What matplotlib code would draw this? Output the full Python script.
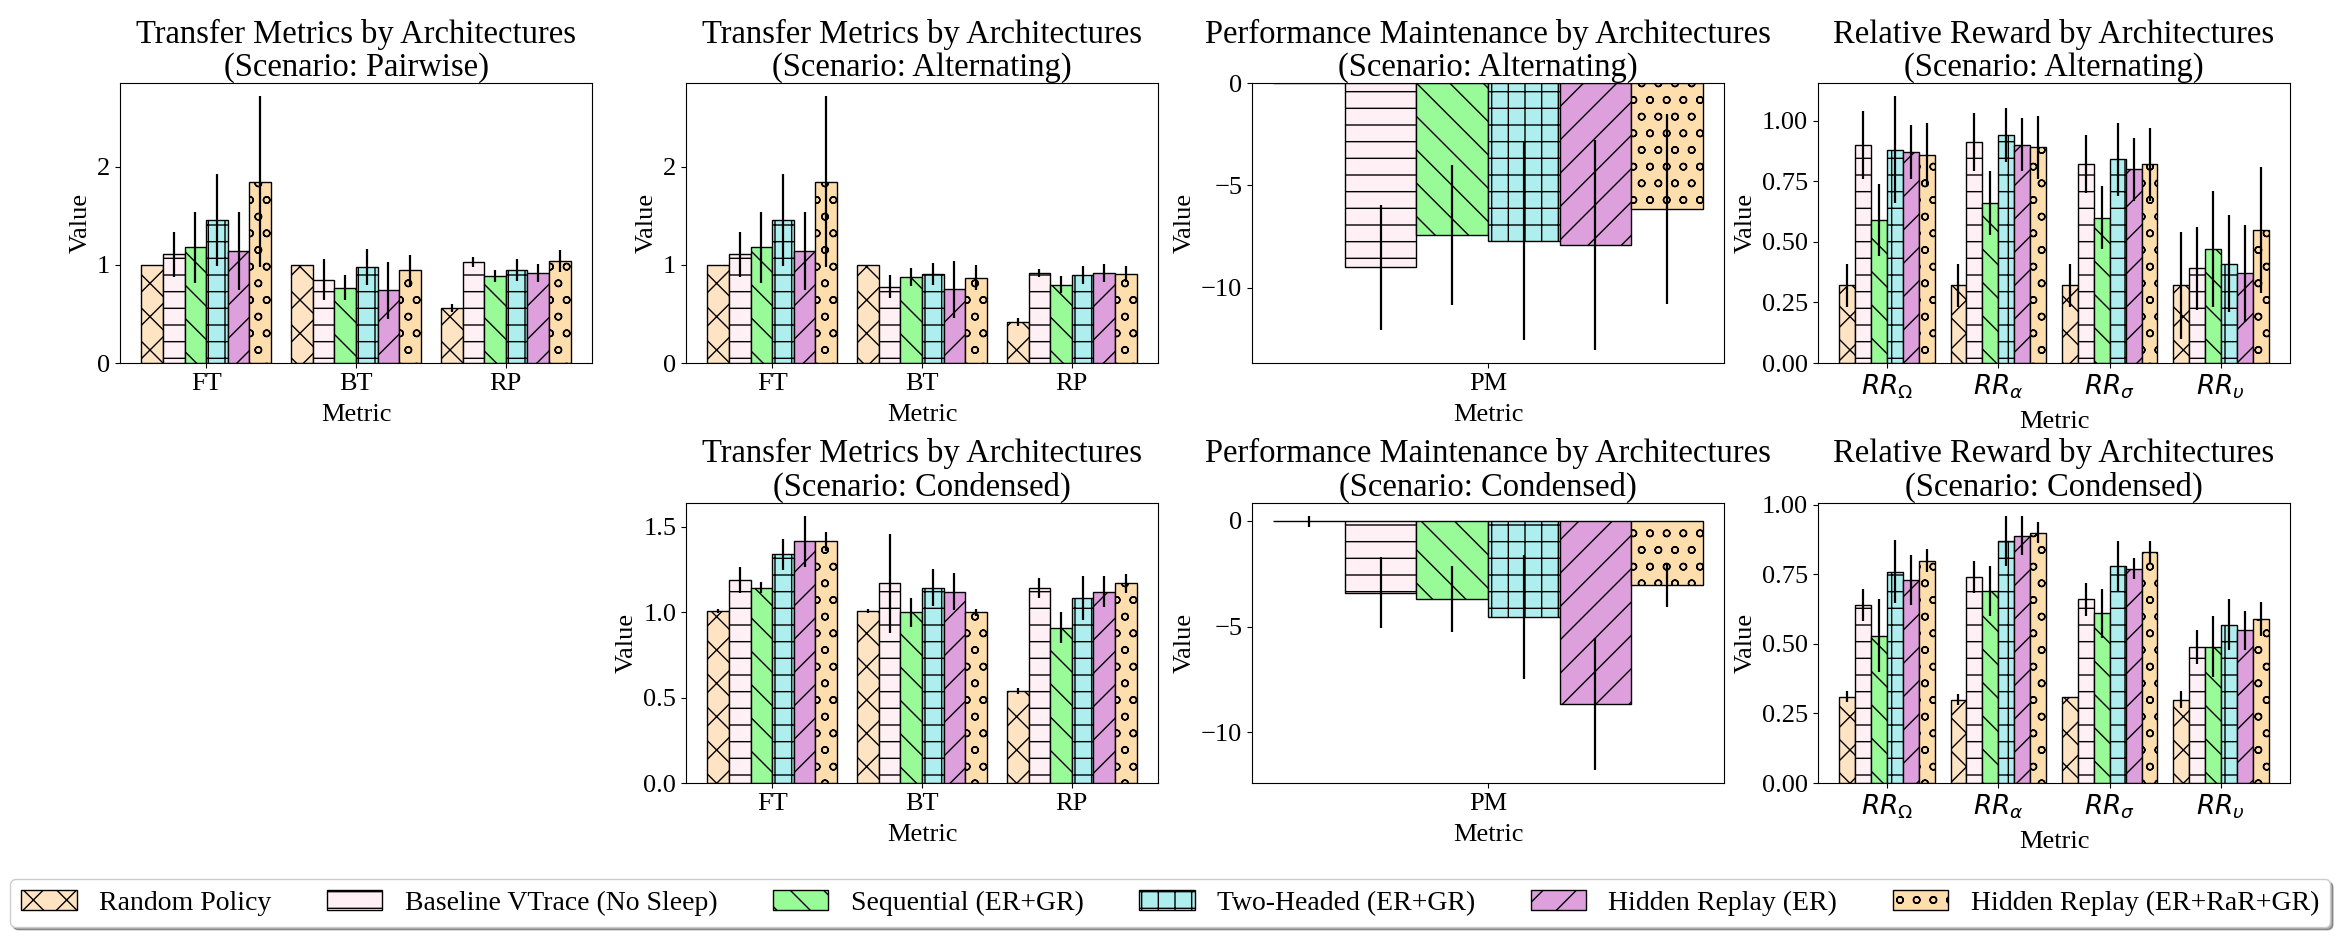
import matplotlib
matplotlib.use('Agg')
import matplotlib.pyplot as plt
from matplotlib import ticker
from matplotlib.patches import Patch
import numpy as np

plt.rcParams['font.family'] = ['Liberation Serif', 'DejaVu Serif']
plt.rcParams['axes.unicode_minus'] = True

architectures = ['Random Policy', 'Baseline VTrace (No Sleep)', 'Sequential (ER+GR)',
                 'Two-Headed (ER+GR)', 'Hidden Replay (ER)', 'Hidden Replay (ER+RaR+GR)']
colors = ['bisque', 'lavenderblush', 'palegreen', 'paleturquoise', 'plum', 'navajowhite']
hatches = ['x', '-', '\\', '+', '/', 'o']

transfer_metrics = ['FT', 'BT', 'RP']
pm_metrics = ['PM']
rr_metrics = [r'$RR_{\Omega}$', r'$RR_{\alpha}$', r'$RR_{\sigma}$', r'$RR_{\upsilon}$']

# rows follow `architectures`, columns follow the metric list
pairwise_tm = [[1.00, 1.00, 0.56], [1.11, 0.85, 1.03], [1.18, 0.77, 0.89],
               [1.46, 0.98, 0.95], [1.14, 0.74, 0.92], [1.85, 0.95, 1.04]]
pairwise_tm_err = [[0.00, 0.00, 0.04], [0.23, 0.21, 0.05], [0.36, 0.13, 0.06],
                   [0.47, 0.18, 0.11], [0.40, 0.29, 0.09], [0.87, 0.15, 0.11]]

alternating_tm = [[1.00, 1.00, 0.42], [1.11, 0.78, 0.92], [1.18, 0.88, 0.80],
                  [1.46, 0.91, 0.90], [1.14, 0.75, 0.92], [1.85, 0.87, 0.91]]
alternating_tm_err = [[0.00, 0.00, 0.04], [0.23, 0.12, 0.04], [0.36, 0.09, 0.09],
                      [0.47, 0.11, 0.09], [0.40, 0.29, 0.09], [0.87, 0.13, 0.08]]

alternating_pm = [[0.0], [-9.0], [-7.43], [-7.7], [-7.9], [-6.15]]
alternating_pm_err = [[0.0], [3.05], [3.44], [4.88], [5.13], [4.64]]

alternating_rr = [[0.32, 0.32, 0.32, 0.32], [0.90, 0.91, 0.82, 0.39],
                  [0.59, 0.66, 0.60, 0.47], [0.88, 0.94, 0.84, 0.41],
                  [0.87, 0.90, 0.80, 0.37], [0.86, 0.89, 0.82, 0.55]]
alternating_rr_err = [[0.09, 0.09, 0.09, 0.22], [0.14, 0.12, 0.12, 0.17],
                      [0.15, 0.13, 0.13, 0.24], [0.22, 0.11, 0.15, 0.20],
                      [0.11, 0.11, 0.13, 0.20], [0.13, 0.13, 0.15, 0.26]]

condensed_tm = [[1.01, 1.01, 0.54], [1.19, 1.17, 1.14], [1.145, 1.00, 0.91],
                [1.34, 1.145, 1.085], [1.415, 1.12, 1.12], [1.415, 1.00, 1.17]]
condensed_tm_err = [[0.012, 0.012, 0.017], [0.076, 0.29, 0.059], [0.035, 0.086, 0.09],
                    [0.091, 0.106, 0.13], [0.147, 0.108, 0.09], [0.057, 0.02, 0.057]]

condensed_pm = [[-0.03], [-3.4], [-3.7], [-4.55], [-8.67], [-3.05]]
condensed_pm_err = [[0.27], [1.68], [1.57], [2.94], [3.13], [1.02]]

condensed_rr = [[0.31, 0.30, 0.31, 0.30], [0.64, 0.74, 0.66, 0.49],
                [0.53, 0.69, 0.61, 0.49], [0.76, 0.87, 0.78, 0.57],
                [0.73, 0.89, 0.77, 0.55], [0.80, 0.90, 0.83, 0.59]]
condensed_rr_err = [[0.02, 0.02, 0.0, 0.03], [0.057, 0.058, 0.058, 0.061],
                    [0.13, 0.09, 0.089, 0.109], [0.113, 0.089, 0.089, 0.09],
                    [0.089, 0.069, 0.038, 0.07], [0.041, 0.038, 0.04, 0.06]]


def grouped_bars(ax, metrics, values, errors, title, step):
    width = 0.144
    x = np.arange(len(metrics))
    n = len(architectures)
    for i in range(n):
        pos = x + (i - (n - 1) / 2) * width
        ax.bar(pos, values[i], width, color=colors[i], hatch=hatches[i],
               edgecolor='black', linewidth=1.0, label=architectures[i])
        ax.errorbar(pos, values[i], yerr=errors[i], fmt='none',
                    ecolor='black', elinewidth=1.6, capsize=0)
    ax.set_xticks(x)
    ax.set_xticklabels(metrics, fontsize=19)
    ax.tick_params(axis='y', labelsize=19)
    ax.yaxis.set_major_locator(ticker.MultipleLocator(step))
    ax.set_xlabel('Metric', fontsize=19, labelpad=7)
    ax.set_ylabel('Value', fontsize=19)
    ax.set_title(title, fontsize=23.5, linespacing=1.1, pad=1.5)


W, H = 2345.0, 942.0
def axes_at(left, top, width=472, height=280):
    return fig.add_axes([left / W, 1 - (top + height) / H, width / W, height / H])

fig = plt.figure(figsize=(23.45, 9.42), dpi=100)

ax1 = axes_at(120, 83)
ax2 = axes_at(686, 83)
ax3 = axes_at(1252, 83)
ax4 = axes_at(1818, 83)
ax6 = axes_at(686, 503)
ax7 = axes_at(1252, 503)
ax8 = axes_at(1818, 503)

grouped_bars(ax1, transfer_metrics, pairwise_tm, pairwise_tm_err,
             'Transfer Metrics by Architectures\n(Scenario: Pairwise)', 1)
grouped_bars(ax2, transfer_metrics, alternating_tm, alternating_tm_err,
             'Transfer Metrics by Architectures\n(Scenario: Alternating)', 1)
grouped_bars(ax3, pm_metrics, alternating_pm, alternating_pm_err,
             'Performance Maintenance by Architectures\n(Scenario: Alternating)', 5)
grouped_bars(ax4, rr_metrics, alternating_rr, alternating_rr_err,
             'Relative Reward by Architectures\n(Scenario: Alternating)', 0.25)
grouped_bars(ax6, transfer_metrics, condensed_tm, condensed_tm_err,
             'Transfer Metrics by Architectures\n(Scenario: Condensed)', 0.5)
grouped_bars(ax7, pm_metrics, condensed_pm, condensed_pm_err,
             'Performance Maintenance by Architectures\n(Scenario: Condensed)', 5)
grouped_bars(ax8, rr_metrics, condensed_rr, condensed_rr_err,
             'Relative Reward by Architectures\n(Scenario: Condensed)', 0.25)

handles = [Patch(facecolor=colors[i], hatch=hatches[i], edgecolor='black',
                 label=architectures[i]) for i in range(len(architectures))]
fig.legend(handles=handles, loc='lower center', bbox_to_anchor=(0.499, 0.016),
           borderaxespad=0, ncol=6, fontsize=20, shadow=True, columnspacing=2.0)

fig.savefig('out.png', dpi=100)
